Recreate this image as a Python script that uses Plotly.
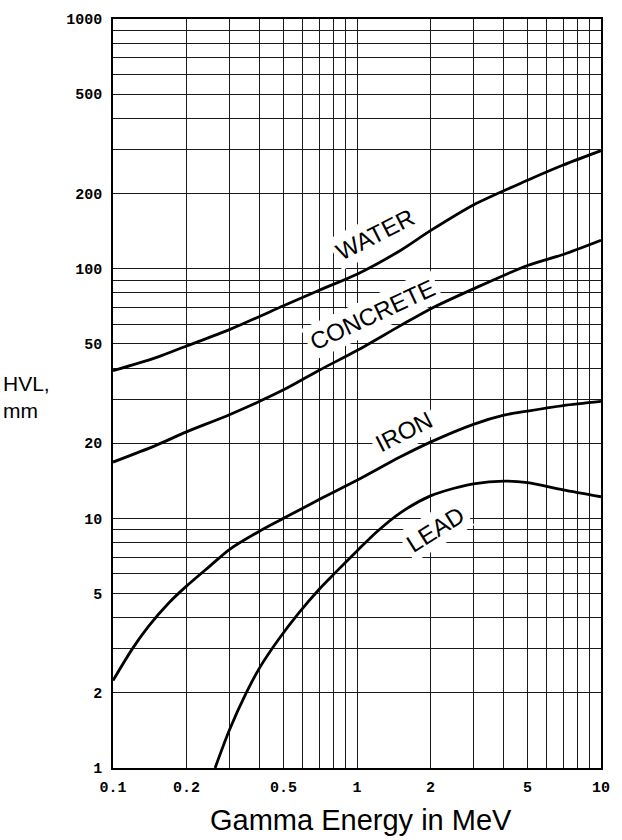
import plotly.graph_objects as go

# ---- data (HVL in mm vs gamma energy in MeV) ----
water_e = [0.1, 0.15, 0.2, 0.3, 0.5, 0.7, 1, 1.5, 2, 3, 5, 7, 10]
water_hvl = [39, 44, 49, 57, 71, 82, 95, 118, 142, 180, 226, 260, 297]

concrete_e = [0.1, 0.15, 0.2, 0.3, 0.5, 0.7, 1, 1.5, 2, 3, 5, 7, 10]
concrete_hvl = [16.8, 19.6, 22.2, 26.0, 32.7, 39.2, 47, 59, 69, 83, 103, 114, 130]

iron_e = [0.1, 0.12, 0.14, 0.17, 0.2, 0.25, 0.3, 0.4, 0.5, 0.7, 1, 1.5, 2, 3, 4, 5, 7, 10]
iron_hvl = [2.24, 3.0, 3.7, 4.6, 5.35, 6.45, 7.5, 8.9, 10.0, 11.9, 14.2, 17.6, 20.2, 23.8, 25.9, 26.9, 28.3, 29.4]

lead_e = [0.262, 0.3, 0.35, 0.4, 0.48, 0.58, 0.7, 0.8, 1.0, 1.2, 1.5, 2, 2.5, 3, 4, 5, 7, 10]
lead_hvl = [1.0, 1.42, 1.98, 2.53, 3.3, 4.2, 5.2, 5.95, 7.4, 8.8, 10.5, 12.3, 13.2, 13.75, 14.1, 13.9, 13.0, 12.2]

series_names = ["WATER", "CONCRETE", "IRON", "LEAD"]

x_grid = [0.1, 0.2, 0.3, 0.4, 0.5, 0.6, 0.7, 0.8, 0.9,
          1, 2, 3, 4, 5, 6, 7, 8, 9, 10]
x_labels = {0.1: "0.1", 0.2: "0.2", 0.5: "0.5", 1: "1", 2: "2", 5: "5", 10: "10"}

y_grid = [1, 2, 3, 4, 5, 6, 7, 8, 9,
          10, 20, 30, 40, 50, 60, 70, 80, 90,
          100, 200, 300, 400, 500, 600, 700, 800, 900, 1000]
y_labels = {1: "1", 2: "2", 5: "5", 10: "10", 20: "20", 50: "50",
            100: "100", 200: "200", 500: "500", 1000: "1000"}

x_title = "Gamma Energy in MeV"
y_title = "HVL,<br>mm"

fig = go.Figure()
for xs, ys, name in zip([water_e, concrete_e, iron_e, lead_e],
                        [water_hvl, concrete_hvl, iron_hvl, lead_hvl],
                        series_names):
    fig.add_trace(go.Scatter(x=xs, y=ys, mode="lines", name=name,
                             line=dict(color="black", width=2.8, shape="spline", smoothing=0.8),
                             showlegend=False))

grid_col = "#1a1a1a"
tick_font = dict(family="Liberation Mono", size=15, color="black", weight="bold")

fig.update_xaxes(type="log", range=[-1, 1],
                 tickmode="array", tickvals=x_grid,
                 ticktext=[x_labels.get(v, "") for v in x_grid],
                 showgrid=True, gridcolor=grid_col, gridwidth=1.4,
                 showline=True, linecolor="black", linewidth=1.6, mirror=True,
                 ticks="", tickfont=tick_font, ticklabelstandoff=4)
fig.update_yaxes(type="log", range=[0, 3],
                 tickmode="array", tickvals=y_grid,
                 ticktext=[y_labels.get(v, "") for v in y_grid],
                 showgrid=True, gridcolor=grid_col, gridwidth=1.4,
                 showline=True, linecolor="black", linewidth=1.6, mirror=True,
                 ticks="", tickfont=tick_font, ticklabelstandoff=6)

label_font = dict(family="Liberation Sans", size=24, color="black")
labels = [("WATER", 0.073, 2.138, -27),
          ("CONCRETE", 0.064, 1.816, -25),
          ("IRON", 0.193, 1.347, -27),
          ("LEAD", 0.320, 0.956, -32)]
for txt, lx, ly, ang in labels:
    fig.add_annotation(x=lx, y=ly, xref="x", yref="y", text=txt, showarrow=False,
                       textangle=ang, font=label_font, bgcolor="white", borderpad=3)

fig.add_annotation(x=0.509, y=-0.069, xref="paper", yref="paper", text=x_title,
                   showarrow=False, xanchor="center", yanchor="middle",
                   font=dict(family="Liberation Sans", size=29, color="black"))
fig.add_annotation(x=-0.229, y=0.495, xref="paper", yref="paper", text=y_title,
                   showarrow=False, xanchor="left", yanchor="middle", align="left",
                   font=dict(family="Liberation Sans", size=21, color="black"))

fig.update_layout(width=622, height=840,
                  margin=dict(l=113, r=16, t=13, b=72),
                  plot_bgcolor="white", paper_bgcolor="white")

fig.write_html("out.html", config={"displayModeBar": False},
               post_script="document.body.style.margin='0';")
